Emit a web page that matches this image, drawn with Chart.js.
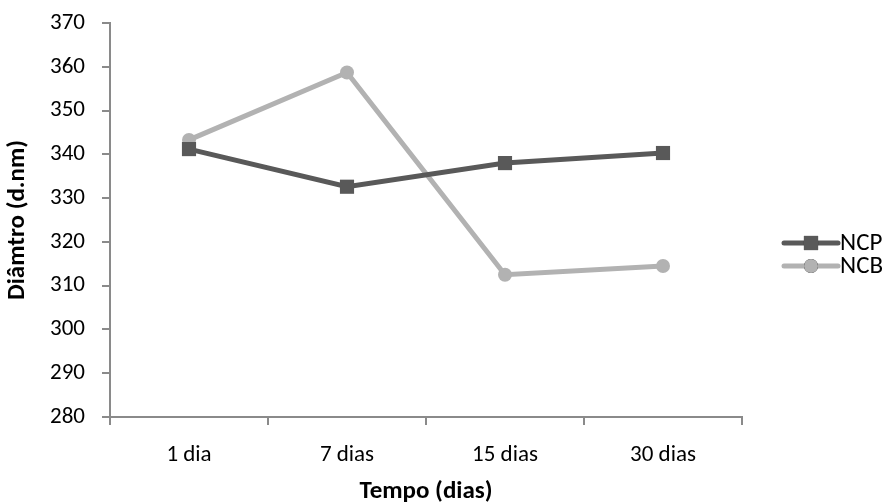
<!DOCTYPE html>
<html>
<head>
<meta charset="utf-8">
<script src="https://cdn.jsdelivr.net/npm/chart.js@4/dist/chart.umd.min.js"></script>
<style>
  html, body { margin: 0; padding: 0; background: #ffffff; }
  #wrap { width: 890px; height: 503px; position: relative; }
</style>
</head>
<body>
<div id="wrap"><canvas id="c" width="890" height="503"></canvas></div>
<script>
// ---- data ----
const categories = ["1 dia", "7 dias", "15 dias", "30 dias"];
const ncpValues = [341.2, 332.6, 338.0, 340.3];
const ncbValues = [343.3, 358.7, 312.5, 314.5];
const seriesNames = ["NCP", "NCB"];
const yTitle = "Diâmtro (d.nm)";
const xTitle = "Tempo (dias)";

const FONT = "Carlito, Lato, 'Liberation Sans', sans-serif";
const TICK_SIZE = 23;
const TITLE_SIZE = 25;
const LEGEND_SIZE = 25;
const AXIS_COLOR = "#8a8a8a";
const NCP_COLOR = "#595959";
const NCB_COLOR = "#b2b2b2";

// custom legend: line + marker + text, like the reference
const lineLegend = {
  id: "lineLegend",
  afterDraw(chart) {
    const ctx = chart.ctx;
    const area = chart.chartArea;
    const cy = (area.top + area.bottom) / 2;
    const items = chart.data.datasets.map((ds, i) => ({ ds, y: cy + 23 + i * 23 }));
    ctx.save();
    items.forEach(({ ds, y }) => {
      const x0 = area.right + 42, x1 = area.right + 96;
      ctx.strokeStyle = ds.borderColor;
      ctx.lineWidth = ds.borderWidth;
      ctx.lineCap = "round";
      ctx.beginPath();
      ctx.moveTo(x0, y);
      ctx.lineTo(x1, y);
      ctx.stroke();
      Chart.helpers.drawPoint(ctx, {
        pointStyle: ds.pointStyle,
        radius: ds.pointRadius,
        borderWidth: 0
      }, (x0 + x1) / 2, y);
      ctx.fillStyle = ds.pointBackgroundColor;
      ctx.fill();
      ctx.fillStyle = "#000";
      ctx.font = LEGEND_SIZE + "px " + FONT;
      ctx.textBaseline = "middle";
      ctx.textAlign = "left";
      ctx.fillText(ds.label, x1 + 2, y + 1);
    });
    ctx.restore();
  }
};

new Chart(document.getElementById("c"), {
  type: "line",
  data: {
    labels: categories,
    datasets: [
      {
        label: seriesNames[0],
        data: ncpValues,
        borderColor: NCP_COLOR,
        backgroundColor: NCP_COLOR,
        pointBackgroundColor: NCP_COLOR,
        pointBorderColor: NCP_COLOR,
        borderWidth: 5,
        pointStyle: "rect",
        pointRadius: 10,
        pointBorderWidth: 0,
        tension: 0
      },
      {
        label: seriesNames[1],
        data: ncbValues,
        borderColor: NCB_COLOR,
        backgroundColor: NCB_COLOR,
        pointBackgroundColor: NCB_COLOR,
        pointBorderColor: NCB_COLOR,
        borderWidth: 5,
        pointStyle: "circle",
        pointRadius: 7,
        pointBorderWidth: 0,
        tension: 0
      }
    ]
  },
  options: {
    responsive: false,
    animation: false,
    devicePixelRatio: 1,
    layout: { padding: { top: 23, right: 148, bottom: 0, left: 0 } },
    plugins: {
      legend: { display: false },
      tooltip: { enabled: false }
    },
    scales: {
      x: {
        type: "category",
        offset: true,
        border: { display: true, color: AXIS_COLOR, width: 2 },
        grid: {
          display: true, offset: true, drawOnChartArea: false,
          drawTicks: true, tickLength: 8, color: AXIS_COLOR, lineWidth: 2
        },
        ticks: { color: "#000", font: { family: FONT, size: TICK_SIZE }, padding: 16, maxRotation: 0 },
        title: {
          display: true, text: xTitle, color: "#000",
          font: { family: FONT, size: TITLE_SIZE, weight: "bold" }, padding: { top: 0, bottom: -4 }
        },
        afterFit(scale) { scale.height = 86; scale.paddingLeft = 0; scale.paddingRight = 0; }
      },
      y: {
        min: 280, max: 370,
        border: { display: true, color: AXIS_COLOR, width: 2 },
        grid: {
          display: true, drawOnChartArea: false, drawTicks: true,
          tickLength: 8, color: AXIS_COLOR, lineWidth: 2
        },
        ticks: { stepSize: 10, color: "#000", font: { family: FONT, size: TICK_SIZE }, padding: 17 },
        title: {
          display: true, text: yTitle, color: "#000",
          font: { family: FONT, size: TITLE_SIZE, weight: "bold" }, padding: { top: 3, bottom: 0 }
        },
        afterFit(scale) { scale.width = 110; scale.paddingTop = 0; scale.paddingBottom = 0; }
      }
    }
  },
  plugins: [lineLegend]
});
</script>
</body>
</html>
